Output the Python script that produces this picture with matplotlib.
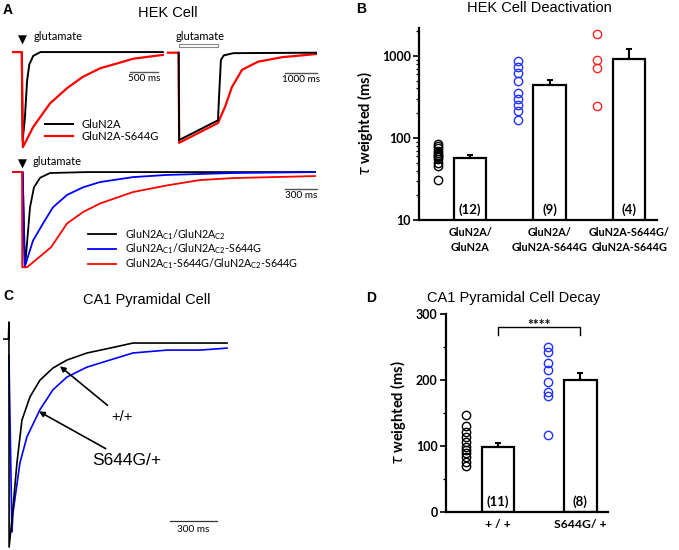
import numpy as np
import matplotlib
matplotlib.use("Agg")
import matplotlib.pyplot as plt
from matplotlib.patches import Rectangle
from matplotlib.ticker import NullFormatter

W, H = 679, 550
FT = ["Liberation Sans", "DejaVu Sans"]   # titles (Arial-like)
FL = ["Lato", "DejaVu Sans"]              # small labels (Calibri-like)

plt.rcParams["mathtext.fontset"] = "custom"
plt.rcParams["mathtext.rm"] = "Lato"
plt.rcParams["mathtext.bf"] = "Lato:bold"

# ---------------- data ----------------
# A, top left: brief glutamate pulse (ms, normalised current)
a1_t_wt = [-180, -5, 10, 50, 90, 130, 200, 330, 2520]
a1_i_wt = [0, 0, -0.93, -0.7, -0.3, -0.13, -0.04, 0, 0]
a1_t_mut = [-180, -5, 15, 197, 500, 805, 1090, 1400, 1700, 1990, 2520]
a1_i_mut = [0, 0, -1.0, -0.79, -0.54, -0.38, -0.26, -0.17, -0.12, -0.07, -0.03]

# A, top right: long glutamate application
a2_t_wt = [-10, 5, 1219, 1250, 1310, 1400, 1700, 4280]
a2_i_wt = [0, -0.97, -0.75, -0.5, -0.08, -0.03, -0.005, 0]
a2_t_mut = [-344, -10, 5, 1219, 1440, 1656, 1970, 2470, 3220, 4280]
a2_i_mut = [0, 0, -1.0, -0.78, -0.60, -0.38, -0.19, -0.10, -0.05, -0.015]
glu_duration = 1219

# A, bottom: triheteromers
a3_t_wt = [-94, -3, 19, 66, 103, 160, 253, 600, 2737]
a3_i_wt = [0, 0, -1.0, -0.37, -0.16, -0.06, -0.01, 0, 0]
a3_t_one = [-94, -3, 15, 94, 188, 281, 413, 563, 722, 1031, 1350, 1969, 2737]
a3_i_one = [0, 0, -1.0, -0.72, -0.54, -0.37, -0.24, -0.16, -0.105, -0.053, -0.03, -0.01, 0]
a3_t_two = [-94, -9, -7, 38, 263, 413, 563, 722, 1031, 1350, 1659, 1969, 2737]
a3_i_two = [0, 0, -1.0, -1.0, -0.79, -0.54, -0.42, -0.33, -0.21, -0.14, -0.084, -0.063, -0.042]

# B: HEK deactivation tau (ms)
b_groups = ["GluN2A/\nGluN2A", "GluN2A/\nGluN2A-S644G", "GluN2A-S644G/\nGluN2A-S644G"]
b_mean = [57, 443, 919]
b_upper = [62, 509, 1217]
b_n = ["(12)", "(9)", "(4)"]
b_pts_wt = [85, 80, 75, 70, 66, 62, 60, 58, 55, 50, 46, 31]
b_pts_one = [870, 730, 620, 490, 350, 300, 250, 210, 165]
b_pts_two = [1850, 894, 715, 248]

# C: CA1 EPSCs
c_t_wt = [-32, -3, 0, 1, 19, 51, 83, 134, 198, 281, 370, 498, 644, 791, 1008, 1219, 1391]
c_i_wt = [0, 0, 0.094, -1.15, -1.0, -0.685, -0.448, -0.32, -0.227, -0.16, -0.116,
          -0.077, -0.05, -0.022, -0.022, -0.022, -0.022]
c_t_mut = [0, 19, 26, 70, 115, 198, 281, 370, 498, 644, 791, 1008, 1219, 1391]
c_i_mut = [-0.088, -1.066, -0.96, -0.685, -0.54, -0.39, -0.28, -0.21, -0.155, -0.116,
           -0.077, -0.061, -0.061, -0.05]

# D: CA1 decay tau (ms)
d_groups = ["+ / +", "S644G/ +"]
d_mean = [98.5, 200]
d_upper = [104.5, 210]
d_n = ["(11)", "(8)"]
d_pts_wt = [147, 130, 121, 114, 106, 98, 94, 89, 83, 76, 70]
d_pts_mut = [250, 242, 226, 215, 197, 182, 176, 117]

# ---------------- figure ----------------
fig = plt.figure(figsize=(6.79, 5.5), dpi=100)


def box(x0, y0, x1, y1):
    return [x0 / W, 1 - y1 / H, (x1 - x0) / W, (y1 - y0) / H]


def ftext(x, y, s, **kw):
    fig.text(x / W, 1 - y / H, s, ha="center", va="center", **kw)


# panel letters and titles
ftext(8, 10, "A", fontsize=10, fontweight="bold", family=FT)
ftext(361, 9, "B", fontsize=10, fontweight="bold", family=FT)
ftext(8, 296, "C", fontsize=10, fontweight="bold", family=FT)
ftext(371, 298, "D", fontsize=10, fontweight="bold", family=FT)
ftext(168, 13, "HEK Cell", fontsize=10.5, family=FT)
ftext(539, 8, "HEK Cell Deactivation", fontsize=10.5, family=FT)
ftext(147, 300, "CA1 Pyramidal Cell", fontsize=10.5, family=FT)
ftext(514, 298, "CA1 Pyramidal Cell Decay", fontsize=10.5, family=FT)


def scalebar(ax, x0, length, y, label, dy):
    ax.plot([x0, x0 + length], [y, y], color="#555555", lw=1.0)
    ax.text(x0 + length / 2, y - dy, label, ha="center", va="top", fontsize=7.2, family=FL)


# ---- A top left ----
ax = fig.add_axes(box(12, 30, 165, 150))
ax.set_xlim(-180, 2559)
ax.set_ylim(-1.03, 0.232)
ax.axis("off")
l1, = ax.plot(a1_t_wt, a1_i_wt, color="black", lw=1.4)
l2, = ax.plot(a1_t_mut, a1_i_mut, color="red", lw=1.6)
ax.legend([l1, l2], ["GluN2A", "GluN2A-S644G"], loc="upper left",
          bbox_to_anchor=(0.216, 0.26), frameon=False, prop={"family": FL, "size": 8},
          handlelength=2.5, handletextpad=0.8, labelspacing=0.1, borderpad=0, borderaxespad=0)
scalebar(ax, 1933, 500, -0.21, "500 ms", 0.02)
ax.text(0, 0.13, "\u25BC", ha="center", va="center", fontsize=8.5, family="DejaVu Sans")
ax.text(215, 0.16, "glutamate", ha="left", va="center", fontsize=8, family=FL)

# ---- A top right ----
ax = fig.add_axes(box(165, 30, 330, 150))
ax.set_xlim(-437, 4719)
ax.set_ylim(-1.08, 0.252)
ax.axis("off")
ax.plot(a2_t_mut, a2_i_mut, color="red", lw=1.6)
ax.plot(a2_t_wt, a2_i_wt, color="black", lw=1.4)
ax.add_patch(Rectangle((0, 0.063), glu_duration, 0.034, facecolor="white",
                       edgecolor="#888888", lw=0.8))
ax.text(glu_duration / 2 + 50, 0.178, "glutamate", ha="center", va="center", fontsize=8, family=FL)
scalebar(ax, 3310, 1000, -0.225, "1000 ms", 0.02)

# ---- A bottom ----
ax = fig.add_axes(box(12, 150, 330, 272))
ax.set_xlim(-103, 2878)
ax.set_ylim(-1.05, 0.232)
ax.axis("off")
h1, = ax.plot(a3_t_wt, a3_i_wt, color="black", lw=1.3)
h2, = ax.plot(a3_t_one, a3_i_one, color="blue", lw=1.3)
h3, = ax.plot(a3_t_two, a3_i_two, color="red", lw=1.3)
ax.legend([h1, h2, h3],
          [r"GluN2A$_{\mathrm{C1}}$/GluN2A$_{\mathrm{C2}}$",
           r"GluN2A$_{\mathrm{C1}}$/GluN2A$_{\mathrm{C2}}$-S644G",
           r"GluN2A$_{\mathrm{C1}}$-S644G/GluN2A$_{\mathrm{C2}}$-S644G"],
          loc="upper left", bbox_to_anchor=(0.24, 0.37), frameon=False,
          prop={"family": FL, "size": 7.7}, handlelength=2.6, handletextpad=0.8,
          labelspacing=0.0, borderpad=0, borderaxespad=0)
scalebar(ax, 2456, 300, -0.18, "300 ms", 0.02)
ax.text(-9, 0.084, "\u25BC", ha="center", va="center", fontsize=8.5, family="DejaVu Sans")
ax.text(94, 0.116, "glutamate", ha="left", va="center", fontsize=8, family=FL)


def style_bar_axes(ax, xsize):
    for s in ["top", "right"]:
        ax.spines[s].set_visible(False)
    for s in ["left", "bottom"]:
        ax.spines[s].set_linewidth(1.6)
    ax.tick_params(axis="x", length=0, pad=5)
    ax.tick_params(axis="y", which="major", length=4, width=1.2, direction="out", pad=2)
    ax.tick_params(axis="y", which="minor", length=2, width=0.9, direction="out")
    for lab in ax.get_yticklabels():
        lab.set_fontweight("bold")
        lab.set_family(FL)
        lab.set_fontsize(9)
    for lab in ax.get_xticklabels():
        lab.set_fontweight("bold")
        lab.set_family(FL)
        lab.set_fontsize(xsize)


# ---- B ----
ax = fig.add_axes(box(419, 28, 657, 220))
ax.set_yscale("log")
xb = np.arange(1, len(b_mean) + 1)
ax.bar(xb, b_mean, width=0.41, color="white", edgecolor="black", linewidth=1.6, zorder=2)
ax.errorbar(xb, b_mean, yerr=[np.zeros(len(b_mean)), np.array(b_upper) - np.array(b_mean)],
            fmt="none", ecolor="black", elinewidth=1.5, capsize=2.5, capthick=1.5, zorder=1)
for xi, pts, col in zip(xb, [b_pts_wt, b_pts_one, b_pts_two], ["black", "#2233ff", "#ff2222"]):
    ax.plot(np.full(len(pts), xi - 0.4), pts, "o", mfc="none", mec=col, ms=6, mew=1.0)
for xi, n in zip(xb, b_n):
    ax.text(xi, 13.2, n, ha="center", va="center", fontsize=9.5, fontweight="bold", family=FL)
ax.set_xlim(0.358, 3.35)
ax.set_ylim(10, 2180)
ax.set_yticks([10, 100, 1000])
ax.set_yticklabels(["10", "100", "1000"])
ax.yaxis.set_minor_formatter(NullFormatter())
ax.set_xticks(xb)
ax.set_xticklabels(b_groups, linespacing=1.4)
ax.set_ylabel(r"$\tau$ weighted (ms)", fontsize=10.5, fontweight="bold", family=FL, labelpad=5)
style_bar_axes(ax, 7.8)

# ---- C ----
ax = fig.add_axes(box(0, 315, 240, 550))
ax.set_xlim(-57, 1474)
ax.set_ylim(-1.166, 0.133)
ax.axis("off")
ax.plot(c_t_mut, c_i_mut, color="blue", lw=1.2)
ax.plot(c_t_wt, c_i_wt, color="black", lw=1.2)
ax.annotate("+/+", xy=(325, -0.15), xytext=(650, -0.43), fontsize=10.5, family=FT,
            ha="left", va="center",
            arrowprops=dict(arrowstyle="-|>", color="black", lw=1.2, mutation_scale=8,
                            shrinkA=2, shrinkB=0))
ax.annotate("S644G/+", xy=(191, -0.40), xytext=(530, -0.67), fontsize=12.5, family=FT,
            ha="left", va="center",
            arrowprops=dict(arrowstyle="-|>", color="black", lw=1.2, mutation_scale=8,
                            shrinkA=2, shrinkB=0))
ax.plot([1027, 1327], [-1.006, -1.006], color="#333333", lw=0.9)
ax.text(1177, -1.03, "300 ms", ha="center", va="top", fontsize=7.2, family=FL)

# ---- D ----
ax = fig.add_axes(box(446, 314, 608, 512))
xd = np.arange(1, len(d_mean) + 1)
ax.bar(xd, d_mean, width=0.40, color="white", edgecolor="black", linewidth=1.6, zorder=2)
ax.errorbar(xd, d_mean, yerr=[np.zeros(len(d_mean)), np.array(d_upper) - np.array(d_mean)],
            fmt="none", ecolor="black", elinewidth=1.5, capsize=2.5, capthick=1.5, zorder=1)
for xi, pts, col in zip(xd, [d_pts_wt, d_pts_mut], ["black", "#2233ff"]):
    ax.plot(np.full(len(pts), xi - 0.39), pts, "o", mfc="none", mec=col, ms=6, mew=1.0)
for xi, n in zip(xd, d_n):
    ax.text(xi, 15, n, ha="center", va="center", fontsize=9.5, fontweight="bold", family=FL)
ax.plot([xd[0], xd[0], xd[1], xd[1]], [268, 280, 280, 268], color="black", lw=1.0)
ax.text(xd.mean(), 283, "****", ha="center", va="center", fontsize=10, fontweight="bold", family=FL)
ax.set_xlim(0.366, 2.34)
ax.set_ylim(0, 300)
ax.set_yticks([0, 100, 200, 300])
ax.set_yticks([50, 150, 250], minor=True)
ax.set_xticks(xd)
ax.set_xticklabels(d_groups)
ax.set_ylabel(r"$\tau$ weighted (ms)", fontsize=10.5, fontweight="bold", family=FL, labelpad=6)
style_bar_axes(ax, 8.7)

fig.savefig("out.png", dpi=100)
